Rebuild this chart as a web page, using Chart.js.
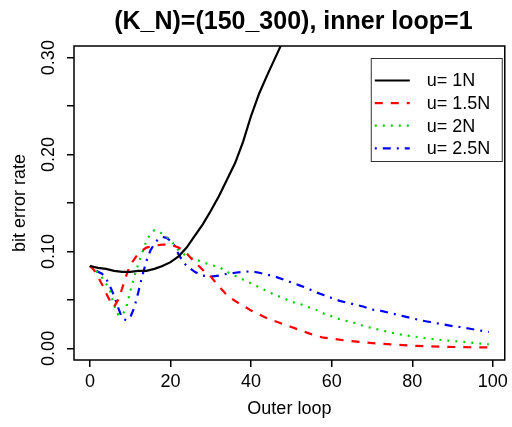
<!DOCTYPE html>
<html><head><meta charset="utf-8">
<script src="https://cdn.jsdelivr.net/npm/chart.js@4"></script>
<style>html,body{margin:0;padding:0;background:#fff}</style>
</head><body>
<canvas id="c" width="512" height="427"></canvas>
<script>
const titleText = "(K_N)=(150_300), inner loop=1";
const xLabel = "Outer loop";
const yLabel = "bit error rate";
const seriesLabels = ["u= 1N", "u= 1.5N", "u= 2N", "u= 2.5N"];
const xTicks = [0, 20, 40, 60, 80, 100];
const yTicks = [0, 0.05, 0.10, 0.15, 0.20, 0.25, 0.30];
const yTickLabels = ["0.00", "", "0.10", "", "0.20", "", "0.30"];

const x1N = [0,2,4,6,8,10,12,14,16,18,20,22,24,26,28,30,32,34,36,38,40,42,44,46,48,50];
const y1N = [0.085,0.083,0.082,0.080,0.079,0.079,0.080,0.080,0.082,0.085,0.089,0.095,0.104,0.116,0.128,0.142,0.157,0.174,0.191,0.213,0.240,0.263,0.282,0.300,0.318,0.336];

const x15N = [0,1,2,3,4,5,6,7,8,9,10,12,14,16,18,20,22,24,26,28,30,32,34,36,38,40,42,44,46,48,50,52,54,56,58,60,64,68,72,76,80,84,88,92,96,99];
const y15N = [0.085,0.081,0.074,0.066,0.057,0.049,0.043,0.050,0.062,0.075,0.086,0.098,0.104,0.106,0.107,0.107,0.104,0.098,0.089,0.081,0.074,0.064,0.055,0.049,0.044,0.039,0.035,0.031,0.028,0.025,0.022,0.019,0.016,0.013,0.011,0.0100,0.0078,0.0062,0.0048,0.0037,0.0028,0.0021,0.0017,0.0013,0.0011,0.0010];

const x2N = [0,1,2,3,4,5,6,7,8,9,10,11,12,13,14,15,16,17,18,20,22,24,26,28,30,32,34,36,38,40,42,44,46,48,50,52,54,56,58,60,62,64,66,68,70,72,74,76,78,80,82,84,86,88,90,92,94,96,98,99];
const y2N = [0.085,0.082,0.078,0.073,0.067,0.059,0.044,0.035,0.034,0.042,0.059,0.074,0.087,0.099,0.111,0.118,0.122,0.121,0.118,0.112,0.101,0.095,0.092,0.089,0.086,0.084,0.079,0.075,0.071,0.067,0.063,0.059,0.055,0.052,0.048,0.046,0.043,0.040,0.036,0.033,0.030,0.028,0.026,0.023,0.021,0.019,0.017,0.015,0.0137,0.0125,0.0113,0.0103,0.0092,0.0083,0.0077,0.0068,0.0063,0.0053,0.0045,0.0042];

const x25N = [0,1,2,3,4,5,6,7,8,9,10,11,12,13,14,15,16,17,18,19,20,21,22,23,24,26,28,30,32,34,36,38,40,42,44,46,48,50,52,54,56,58,60,62,64,66,68,70,72,74,76,78,80,82,84,86,88,90,92,94,96,99];
const y25N = [0.085,0.082,0.079,0.077,0.072,0.064,0.054,0.042,0.031,0.029,0.032,0.042,0.058,0.075,0.090,0.101,0.108,0.113,0.115,0.114,0.111,0.106,0.097,0.090,0.085,0.079,0.075,0.074,0.075,0.077,0.078,0.079,0.0795,0.078,0.076,0.074,0.071,0.068,0.065,0.062,0.058,0.055,0.052,0.049,0.047,0.045,0.043,0.040,0.039,0.037,0.035,0.033,0.031,0.029,0.0275,0.026,0.0245,0.023,0.022,0.0205,0.019,0.017];

const FAM = '"Liberation Sans", Arial, Helvetica, sans-serif';
const pts = (xs, ys) => xs.map((x, i) => ({x: x, y: ys[i]}));

const datasets = [
  {label: seriesLabels[0], data: pts(x1N, y1N), borderColor: '#000000', borderWidth: 2.2, borderDash: []},
  {label: seriesLabels[1], data: pts(x15N, y15N), borderColor: '#FF0000', borderWidth: 2.2, borderDash: [8, 8]},
  {label: seriesLabels[2], data: pts(x2N, y2N), borderColor: '#00CD00', borderWidth: 2.2, borderDash: [2, 6]},
  {label: seriesLabels[3], data: pts(x25N, y25N), borderColor: '#0000FF', borderWidth: 2.2, borderDash: [2, 6, 8, 6]}
].map(d => Object.assign(d, {pointRadius: 0, tension: 0, fill: false, borderCapStyle: 'butt'}));

const decor = {
  id: 'decor',
  afterDraw(chart) {
    const ctx = chart.ctx, ca = chart.chartArea, ys = chart.scales.y;
    ctx.save();
    ctx.strokeStyle = '#000'; ctx.lineWidth = 1.5; ctx.setLineDash([]);
    ctx.strokeRect(ca.left, ca.top, ca.right - ca.left, ca.bottom - ca.top);
    ctx.fillStyle = '#000'; ctx.font = '18px ' + FAM;
    ctx.textAlign = 'center'; ctx.textBaseline = 'middle';
    yTicks.forEach((v, i) => {
      if (!yTickLabels[i]) return;
      const py = ys.getPixelForValue(v);
      ctx.save(); ctx.translate(ca.left - 25, py); ctx.rotate(-Math.PI / 2);
      ctx.fillText(yTickLabels[i], 0, 0); ctx.restore();
    });
    ctx.font = 'bold 25px ' + FAM; ctx.textBaseline = 'alphabetic';
    ctx.fillText(titleText, (ca.left + ca.right) / 2 + 4, 29);
    const lw = 131, lh = 103;
    const lx = ca.right - 3 - lw, ly = ca.top + 12;
    ctx.fillStyle = '#fff'; ctx.fillRect(lx, ly, lw, lh);
    ctx.strokeStyle = '#333'; ctx.lineWidth = 1; ctx.strokeRect(lx + 0.5, ly + 0.5, lw, lh);
    ctx.font = '18px ' + FAM; ctx.textAlign = 'left'; ctx.textBaseline = 'middle';
    chart.data.datasets.forEach((d, i) => {
      const ry = ly + 22.5 + i * 22.6;
      ctx.strokeStyle = d.borderColor; ctx.lineWidth = d.borderWidth; ctx.setLineDash(d.borderDash);
      ctx.beginPath(); ctx.moveTo(lx + 4, ry); ctx.lineTo(lx + 39, ry); ctx.stroke();
      ctx.setLineDash([]);
      ctx.fillStyle = '#000'; ctx.fillText(d.label, lx + 56, ry + 1);
    });
    ctx.restore();
  }
};

new Chart(document.getElementById('c'), {
  type: 'line',
  data: {datasets: datasets},
  plugins: [decor],
  options: {
    responsive: false, animation: false, devicePixelRatio: 1,
    layout: {padding: {top: 46, right: 5, left: 0, bottom: 0}},
    plugins: {legend: {display: false}, title: {display: false}, tooltip: {enabled: false}},
    scales: {
      x: {
        type: 'linear', min: -3.96, max: 102.96,
        afterBuildTicks: s => { s.ticks = xTicks.map(v => ({value: v})); },
        afterFit: s => { s.height = 67; },
        grid: {drawOnChartArea: false, drawTicks: true, tickLength: 7, color: '#000', lineWidth: 1.5},
        border: {display: false},
        ticks: {font: {size: 18, family: FAM}, color: '#000', padding: 4, maxRotation: 0, autoSkip: false, callback: v => String(v)},
        title: {display: true, text: xLabel, font: {size: 18, family: FAM}, color: '#000', padding: {top: 0, bottom: 7}}
      },
      y: {
        type: 'linear', min: -0.012, max: 0.312,
        afterBuildTicks: s => { s.ticks = yTicks.map(v => ({value: v})); },
        afterFit: s => { s.width = 74; },
        grid: {drawOnChartArea: false, drawTicks: true, tickLength: 7, color: '#000', lineWidth: 1.5},
        border: {display: false},
        ticks: {display: false},
        title: {display: true, text: yLabel, font: {size: 18, family: FAM}, color: '#000', padding: {top: 9, bottom: 0}}
      }
    }
  }
});
</script>
</body></html>
